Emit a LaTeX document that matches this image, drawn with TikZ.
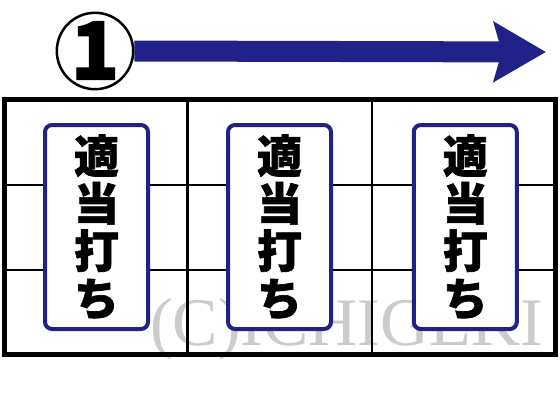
\documentclass[tikz,border=0pt]{standalone}
\usepackage{fontspec}
\usepackage{tikz}
\usetikzlibrary{arrows.meta}
\newfontfamily\cjk{Noto Sans CJK JP}[BoldFeatures={FakeBold=1.5}]
\newfontfamily\markfont{Liberation Serif}
\definecolor{white}{RGB}{255,255,255}
\definecolor{black}{RGB}{0,0,0}
\definecolor{navy_blue}{RGB}{33,33,137}
\definecolor{mark_gray}{RGB}{204,204,204}

\tikzset{
	frameline/.style={draw=black,line width=5pt},
	gridline/.style={draw=black,line width=2.5pt},
	reelbox/.style={rectangle,draw=navy_blue,fill=white,line width=4pt,rounded corners=7pt,
		minimum width=103pt,minimum height=204pt,inner sep=0pt,align=center,
		font=\cjk\bfseries\fontsize{45pt}{47.5pt}\selectfont}
}

\begin{document}
\begin{tikzpicture}[x=1pt,y=-1pt]
	\useasboundingbox (0,0) rectangle (560,420);
	
	% watermark
	\node[anchor=base west,inner sep=0pt,text=mark_gray,font=\markfont\fontsize{68pt}{68pt}\selectfont] (mark) at (150,345) {(C)ICHIGEKI};
	
	% frame
	\draw[gridline] (187.5,100) -- (187.5,354.5);
	\draw[gridline] (372,100) -- (372,354.5);
	\draw[gridline] (4.5,185) -- (555.5,185);
	\draw[gridline] (4.5,270) -- (555.5,270);
	\draw[frameline] (4.5,100) rectangle (555.5,354.5);
	
	\foreach \i/\x in {1/96.5,2/279.5,3/465.3}
		\node[reelbox] (reel\i) at (\x,227) {適\\当\\打\\ち};
	
	% order
	\coordinate (tip) at (546,52);
	\node[circle,draw=black,fill=white,line width=2.5pt,minimum size=67pt,inner sep=0pt,
		font=\cjk\bfseries\fontsize{80pt}{80pt}\selectfont] (step1) at (95,51) {\raisebox{1pt}{1}};
	\draw[navy_blue,line width=21pt,-{Stealth[length=52pt,width=59pt,inset=8pt]}] (step1.east) -- (tip);
\end{tikzpicture}
\end{document}
